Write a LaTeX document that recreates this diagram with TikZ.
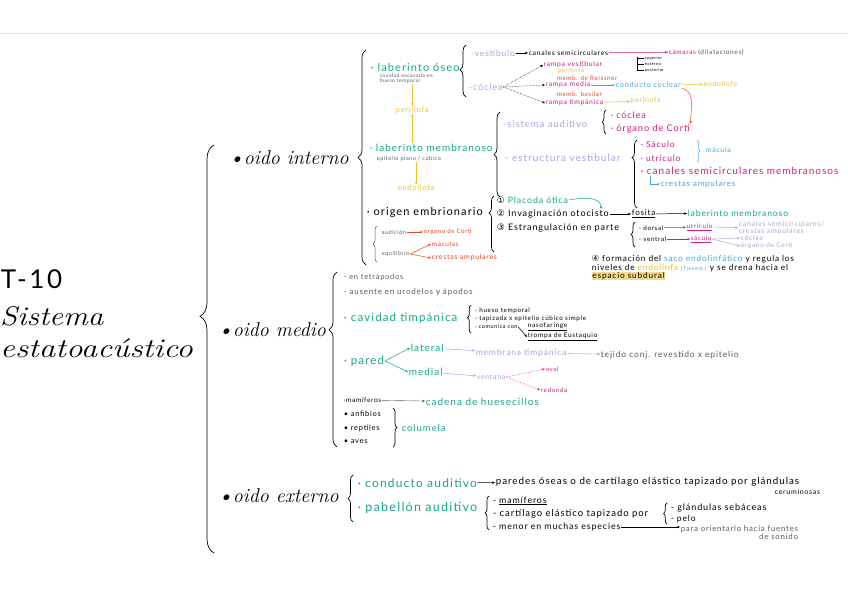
\documentclass[tikz,border=0pt]{standalone}
\usepackage{fontspec}
\usepackage{graphicx}
\usetikzlibrary{arrows.meta,decorations.pathreplacing,calc}
\newfontfamily\hw[LetterSpace=10]{Lato}
\newfontfamily\sym{DejaVu Sans}
\definecolor{tl}{HTML}{17A689}
\definecolor{lav}{HTML}{B3A0E0}
\definecolor{pk}{HTML}{D31A80}
\definecolor{yl}{HTML}{EFBE2A}
\definecolor{rd}{HTML}{E8472C}
\definecolor{bl}{HTML}{4BA3DA}
\definecolor{gr}{HTML}{5A5A5A}
\tikzset{
  w/.style={inner sep=0.6pt, anchor=west},
  fs/.style={font=\hw\fontsize{#1}{#1}\selectfont},
  hd/.style={inner sep=0.6pt, anchor=west, font=\itshape\fontsize{#1}{#1}\selectfont},
  arr/.style={-{Stealth[length=3pt,width=2.6pt]}, line width=0.5pt},
  br/.style={decorate, decoration={brace, amplitude=#1}, line width=0.7pt},
}
\begin{document}
\begin{tikzpicture}[x=1pt,y=-1pt]
\useasboundingbox (0,0) rectangle (848,599);
\fill[white] (0,0) rectangle (848,599);
\draw[gray!20, line width=0.6pt] (0,33) -- (848,33);

% ---------- title ----------
\node[w, fs=26] (t10) at (0,279) {T-10};
\node[hd=27, inner sep=0pt] (sis) at (0,316) {\scalebox{1.15}[1]{Sistema}};
\node[hd=27, inner sep=0pt] (est) at (0,348) {\scalebox{1.22}[1]{estatoacústico}};
\draw[br=14, decoration={aspect=0.58}] (214,553) -- (214,145);

\node[hd=20] (oi) at (228,158) {\textbullet oido interno};
\node[hd=20] (om) at (217,330) {\textbullet oido medio};
\node[hd=20] (oe) at (217,496) {\textbullet oido externo};

% ---------- oido interno ----------
\draw[br=8, decoration={aspect=0.5}] (366,265) -- (366,50);
\node[w, fs=11, tl] (labO) at (370,67) {· laberinto óseo};
\node[w, fs=5, gr, align=left] (labOn) at (379,79) {cavidad excavada en\\hueso temporal};
\node[w, fs=7.5, yl] (peri1) at (395,110) {perilinfa};
\node[w, fs=10, tl] (labM) at (369,148) {· laberinto membranoso};
\node[w, fs=5.5, gr] (labMn) at (376,159) {epitelio plano / cúbico};
\node[w, fs=7.5, yl] (endo1) at (397,188) {endolinfa};
\draw[arr, yl] (labOn.south -| peri1) -- (peri1.north);
\draw[arr, yl] (labM.north -| peri1) -- (peri1.south);
\draw[arr, yl] (labMn.south -| endo1) -- (endo1.north);

\node[w, fs=11] (orig) at (366,212) {· origen embrionario};
\draw[br=4, gr, line width=0.5pt] (377,262) -- (377,226);
\node[w, fs=5.5, gr] (aud) at (381,232) {audición};
\node[w, fs=6, rd] (org1) at (423,232) {órgano de Corti};
\node[w, fs=5.5, gr] (equi) at (381,254) {equilibrio};
\node[w, fs=6.5, rd] (mac1) at (431,244) {máculas};
\node[w, fs=7, rd] (cre1) at (431,258) {crestas ampulares};
\draw[arr, rd] (aud) -- (org1);
\draw[arr, rd] (equi.east) -- (mac1.west);
\draw[arr, rd] (equi.east) -- (cre1.west);

% laberinto oseo branch
\draw[br=6, decoration={aspect=0.52}] (466,97) -- (466,45);
\node[w, fs=8.5, lav] (vest) at (470,53) {-vestíbulo};
\node[w, fs=6.8] (canS) at (528,53) {canales semicirculares};
\node[w, fs=6.5, pk] (cam) at (668,52) {cámaras \textcolor{gr}{(dilataciones)}};
\draw[arr] (vest) -- (canS);
\draw[arr, pk] (canS) -- (cam);
\node[w, fs=4] (sup) at (644,58) {superior};
\node[w, fs=4] (ext) at (644,64) {externo};
\node[w, fs=4] (post) at (644,70) {posterior};
\draw[line width=0.5pt] (637,57) -- (637,71);
\draw[line width=0.5pt] (637,58) -- (sup.west);
\draw[line width=0.5pt] (637,64) -- (ext.west);
\draw[line width=0.5pt] (637,70) -- (post.west);

\node[w, fs=9, lav] (coc) at (468,87) {-cóclea};
\node[w, fs=6.8, pk] (rv) at (543,65) {rampa vestibular};
\node[w, fs=6, yl] (peri2) at (557,71) {perilinfa};
\node[w, fs=6.2, rd] (reis) at (556,78) {memb. de Reissner};
\node[w, fs=6.8, pk] (rm) at (545,85) {rampa media};
\node[w, fs=7.3, bl] (cc) at (615,85) {conducto coclear};
\node[w, fs=6.8, yl] (endo2) at (703,84) {endolinfa};
\node[w, fs=6.2, rd] (bas) at (556,94) {memb. basilar};
\node[w, fs=6.8, pk] (rt) at (545,103) {rampa timpánica};
\node[w, fs=6.8, yl] (peri3) at (630,101) {perilinfa};
\draw[arr, densely dotted] (coc.east) -- (rv.west);
\draw[arr, densely dotted] (coc.east) -- (rm.west);
\draw[arr, densely dotted] (coc.east) -- (rt.west);
\draw[arr, bl] (rm) -- (cc);
\draw[arr, yl] (cc) -- (endo2);
\draw[arr, yl] (rt) -- (peri3);

% laberinto membranoso branch
\draw[br=6, decoration={aspect=0.5}] (500,197) -- (500,112);
\node[w, fs=9.5, lav] (sa) at (502,124) {-sistema auditivo};
\draw[br=4, decoration={aspect=0.5}] (606,134) -- (606,110);
\node[w, fs=9, pk] (coc3) at (610,115) {· cóclea};
\node[w, fs=9.2, pk] (corti) at (610,129) {· órgano de Corti};
\draw[arr, rd] (cc.south east) to[out=-5, in=90] (corti.north east);
\node[w, fs=10, lav] (ev) at (504,158) {- estructura vestibular};
\draw[br=5, decoration={aspect=0.74}] (637,208) -- (637,140);
\node[w, fs=8.5, pk] (sac) at (640,144) {· Sáculo};
\node[w, fs=8.5, pk] (utr) at (640,158) {· utrículo};
\node[w, fs=10, pk] (canM) at (640,171) {· canales semicirculares membranosos};
\draw[br=3, bl, line width=0.5pt] (697,140) -- (697,162);
\node[w, fs=7, bl] (mac) at (705,150) {mácula};
\node[w, fs=8, bl] (cres) at (660,184) {crestas ampulares};
\draw[arr, bl] ($(canM.south west)+(10,0)$) |- (cres.west);

% origen embrionario branch
\draw[br=5, decoration={aspect=0.7}] (494,252) -- (494,196);
\node[w, fs=8.8, tl] (pl) at (496,200) {\textcolor{black}{\sym ①} Placoda ótica};
\coordinate (plend) at (601,209);
\draw[arr, tl] (pl.east) to[out=10, in=90] (plend);
\node[w, fs=9] (inv) at (496,214) {{\sym ②} Invaginación otocisto};
\node[w, fs=8] (fos) at (631,214) {\underline{fosita}};
\node[w, fs=8.6, tl] (labM2) at (687,213) {laberinto membranoso};
\draw[arr] (inv) -- (fos);
\draw[arr] (fos) -- (labM2);
\node[w, fs=9] (estr) at (496,228) {{\sym ③} Estrangulación en parte};
\draw[br=4, decoration={aspect=0.5}] (635,247) -- (635,222);
\node[w, fs=6.3] (dors) at (638,228) {- dorsal};
\node[w, fs=6.3, pk] (utr2) at (686,227) {\underline{utrículo}};
\node[w, fs=7, lav, align=left] (cscr) at (738,228) {canales semicirculares/\\crestas ampulares};
\node[w, fs=6.3] (vent) at (638,239) {- ventral};
\node[w, fs=6.3, pk] (sac2) at (690,239) {\underline{sáculo}};
\node[w, fs=6.8, lav] (coc2) at (740,238) {cóclea};
\node[w, fs=6.5, lav] (corti2) at (740,246) {órgano de Corti};
\draw[arr, pk] (dors) -- (utr2);
\draw[arr, lav] (utr2) -- (cscr);
\draw[arr, pk] (vent) -- (sac2);
\draw[arr, lav] (sac2.east) -- (coc2.west);
\draw[arr, lav] (sac2.east) -- (corti2.west);
\node[w, fs=8.3, align=left] (four) at (591,268) {{\sym ④} formación del \textcolor{bl}{saco endolinfático} y regula los\\
niveles de \textcolor{yl}{endolinfa} \textcolor{bl}{\fontsize{5}{5}\selectfont(↑memb.)} y se drena hacia el\\
{\setlength{\fboxsep}{0.6pt}\colorbox{yl!55}{espacio subdural}}};

% ---------- oido medio ----------
\draw[br=8, decoration={aspect=0.67}] (337,447) -- (337,272);
\node[w, fs=7.5, gr] (tetr) at (343,277) {- en tetrápodos};
\node[w, fs=8, gr] (aus) at (343,292) {- ausente en urodelos y ápodos};
\node[w, fs=11.5, tl] (cav) at (343,318) {· cavidad timpánica};
\draw[br=3.5, decoration={aspect=0.55}] (471,333) -- (471,305);
\node[w, fs=6.3] (hueso) at (474,311) {- hueso temporal};
\node[w, fs=6.3] (tap) at (474,319) {- tapizada x epitelio cúbico simple};
\node[w, fs=5.5] (com) at (474,327) {- comunica con};
\node[w, fs=6.5] (naso) at (527,327) {\underline{nasofaringe}};
\node[w, fs=6.5] (tromp) at (527,337) {\underline{trompa de Eustaquio}};
\draw[arr] (com.east) -- (tromp.west);
\node[w, fs=11.5, tl] (pared) at (343,361) {· pared};
\node[w, fs=10, tl] (lat) at (410,348) {lateral};
\node[w, fs=10, tl] (med) at (408,372) {medial};
\draw[arr, tl] (pared.east) -- (lat.west);
\draw[arr, tl] (pared.east) -- (med.west);
\node[w, fs=8.5, lav] (mt) at (475,353) {membrana timpánica};
\node[w, fs=8.5, gr] (tej) at (600,355) {tejido conj. revestido x epitelio};
\node[w, fs=7, lav] (ven) at (476,377) {ventana};
\node[w, fs=6, pk] (oval) at (545,369) {oval};
\node[w, fs=6.3, pk] (red) at (540,390) {redonda};
\draw[arr, lav] (lat) -- (mt);
\draw[arr, gr!60, line width=0.4pt] (mt) -- (tej);
\draw[arr, lav] (med) -- (ven);
\draw[arr, pk, densely dotted] (ven.east) -- (oval.west);
\draw[arr, pk, densely dotted] (ven.east) -- (red.west);
\node[w, fs=6.5] (mam) at (343,400) {·mamíferos};
\node[w, fs=10, tl] (cad) at (425,402) {cadena de huesecillos};
\draw[arr, gr, line width=0.4pt] (mam) -- (cad);
\node[w, fs=7.5] (anf) at (343,414) {• anfibios};
\node[w, fs=7.5] (rep) at (343,428) {• reptiles};
\node[w, fs=7.5] (aves) at (343,442) {• aves};
\draw[br=4, decoration={aspect=0.5}] (393,408) -- (393,447);
\node[w, fs=9.5, tl] (col) at (401,428) {columela};

% ---------- oido externo ----------
\draw[br=5, decoration={aspect=0.5}] (353,522) -- (353,475);
\node[w, fs=12, tl] (cond) at (357,483) {· conducto auditivo};
\node[w, fs=9.8] (par) at (495,482) {paredes óseas o de cartílago elástico tapizado por glándulas};
\node[w, fs=7] (cer) at (774,492) {ceruminosas};
\draw[arr] (cond) -- (par);
\node[w, fs=12.5, tl] (pab) at (357,508) {· pabellón auditivo};
\draw[br=4, decoration={aspect=0.5}] (489,530) -- (489,496);
\node[w, fs=8.8] (mamf) at (492,501) {- \underline{mamíferos}};
\node[w, fs=9.5] (cart) at (492,514) {- cartílago elástico tapizado por};
\draw[br=3.5, decoration={aspect=0.5}] (667,524) -- (667,503);
\node[w, fs=9] (glan) at (670,508) {- glándulas sebáceas};
\node[w, fs=8.5] (pelo) at (670,519) {- pelo};
\node[w, fs=8.8] (menor) at (492,527) {- menor en muchas especies};
\node[w, fs=7.8, gr, align=right] (para) at (680,533) {para orientarlo hacia fuentes\\de sonido};
\draw[arr] (menor.east) -- (para.west |- menor.east);
\end{tikzpicture}
\end{document}
